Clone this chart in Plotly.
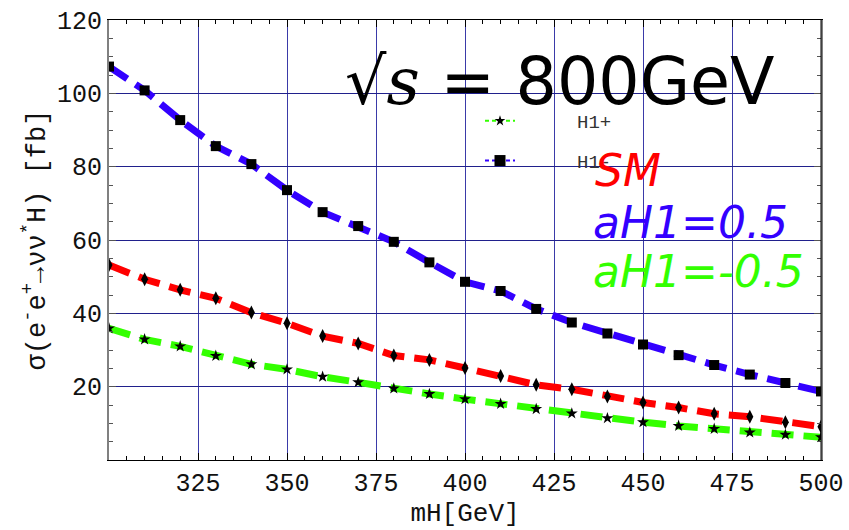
import plotly.graph_objects as go

mh = [300, 310, 320, 330, 340, 350, 360, 370, 380, 390, 400,
      410, 420, 430, 440, 450, 460, 470, 480, 490, 500]
sigma_h1_minus = [107.3, 100.8, 92.7, 85.6, 80.7, 73.6, 67.6, 63.8, 59.5, 53.9, 48.6,
                  46.1, 41.2, 37.5, 34.5, 31.5, 28.6, 25.9, 23.3, 21.0, 18.7]
sigma_sm = [53.2, 49.3, 46.4, 44.1, 40.2, 37.3, 33.8, 31.8, 28.5, 27.3, 25.1,
            22.9, 20.5, 19.3, 17.3, 15.7, 14.3, 12.6, 11.8, 10.3, 9.1]
sigma_h1_plus = [35.9, 32.9, 31.0, 28.4, 26.1, 24.7, 22.7, 21.2, 19.5, 18.0, 16.6,
                 15.3, 13.9, 12.7, 11.4, 10.3, 9.3, 8.5, 7.5, 6.9, 6.2]
x_ticks = [325, 350, 375, 400, 425, 450, 475, 500]
y_ticks = [20, 40, 60, 80, 100, 120]

BLUE = "#3300ff"
RED = "#ff0000"
GREEN = "#33ff00"
MONO = "Liberation Mono"

W, H = 849, 530
L, R, T, B = 109, 28, 20, 70
PW, PH = W - L - R, H - T - B


def px(xp):
    return (xp - L) / PW


def py(yp):
    return (H - B - yp) / PH


fig = go.Figure()

fig.add_trace(go.Scatter(x=mh, y=sigma_h1_minus, mode="lines+markers", showlegend=False,
                         line=dict(color=BLUE, width=7, dash="22px,10px"),
                         marker=dict(symbol="square", size=10, color="black")))
fig.add_trace(go.Scatter(x=mh, y=sigma_sm, mode="lines+markers", showlegend=False,
                         line=dict(color=RED, width=7, dash="22px,10px"),
                         marker=dict(symbol="diamond-tall", size=10, color="black")))
fig.add_trace(go.Scatter(x=mh, y=sigma_h1_plus, mode="lines+markers", showlegend=False,
                         line=dict(color=GREEN, width=7, dash="22px,10px"),
                         marker=dict(symbol="star", size=9, color="black")))

# legend entries
nb = "&nbsp;" * 5
fig.add_trace(go.Scatter(x=[None], y=[None], mode="lines+markers", name=nb + "H1+",
                         legendgroup="a", legendrank=1,
                         line=dict(color=GREEN, width=2, dash="4px,3px"),
                         marker=dict(symbol="star", size=8, color="black")))
fig.add_trace(go.Scatter(x=[None], y=[None], mode="lines+markers", name=nb + "H1-",
                         legendgroup="b", legendrank=2,
                         line=dict(color=BLUE, width=2, dash="4px,3px"),
                         marker=dict(symbol="square", size=11, color="black")))

fig.update_layout(
    width=W, height=H,
    margin=dict(l=L, r=R, t=T, b=B),
    paper_bgcolor="white", plot_bgcolor="white",
    showlegend=True,
    legend=dict(x=px(480), y=py(102), xanchor="left", yanchor="top",
                bgcolor="rgba(0,0,0,0)", tracegroupgap=12,
                font=dict(family=MONO, size=19, color="#333")),
    xaxis=dict(range=[300, 500], tickmode="array", tickvals=x_ticks, automargin=False,
               ticks="inside", ticklen=7, tickcolor="black",
               showline=True, linecolor="black", linewidth=1, mirror="ticks",
               showgrid=True, gridcolor="#3a3aa8", gridwidth=1, zeroline=False,
               minor=dict(tickmode="linear", tick0=300, dtick=5, ticks="inside",
                          ticklen=4, tickcolor="black", showgrid=False),
               tickfont=dict(family=MONO, size=25, color="#111"),
               title=dict(text="mH[GeV]", font=dict(family=MONO, size=26, color="#111"),
                          standoff=2)),
    yaxis=dict(range=[0, 120], tickmode="array", tickvals=y_ticks, automargin=False,
               ticks="inside", ticklen=7, tickcolor="#555",
               showline=True, linecolor="#808080", linewidth=2, mirror="ticks",
               showgrid=True, gridcolor="#20208c", gridwidth=1, zeroline=False,
               minor=dict(tickmode="linear", tick0=0, dtick=5, ticks="inside",
                          ticklen=4, tickcolor="#555", showgrid=False),
               tickfont=dict(family=MONO, size=25, color="#111"),
               title=dict(text="σ(e<sup>-</sup>e<sup>+</sup>→νν<sup>*</sup>H) [fb]",
                          font=dict(family=MONO, size=27, color="#111"),
                          standoff=4)),
    shapes=[dict(type="line", xref="paper", yref="paper", x0=1, x1=1, y0=0, y1=1,
                 line=dict(color="black", width=1), layer="above")],
    annotations=[
        dict(text="√<span style='font-family:DejaVu Serif'><i>s</i></span> = 800GeV",
             xref="paper", yref="paper", x=px(559), y=py(81), xanchor="center", yanchor="middle",
             showarrow=False, font=dict(family="DejaVu Sans", size=65, color="black")),
        dict(text="<i>SM</i>", xref="paper", yref="paper", x=px(593), y=py(170),
             xanchor="left", yanchor="middle", showarrow=False,
             font=dict(family="DejaVu Sans", size=44, color=RED)),
        dict(text="<i>aH1=0.5</i>", xref="paper", yref="paper", x=px(591), y=py(222),
             xanchor="left", yanchor="middle", showarrow=False,
             font=dict(family="DejaVu Sans", size=44, color=BLUE)),
        dict(text="<i>aH1=-0.5</i>", xref="paper", yref="paper", x=px(591), y=py(271),
             xanchor="left", yanchor="middle", showarrow=False,
             font=dict(family="DejaVu Sans", size=44, color=GREEN)),
    ],
)

fig.write_html("out.html")
